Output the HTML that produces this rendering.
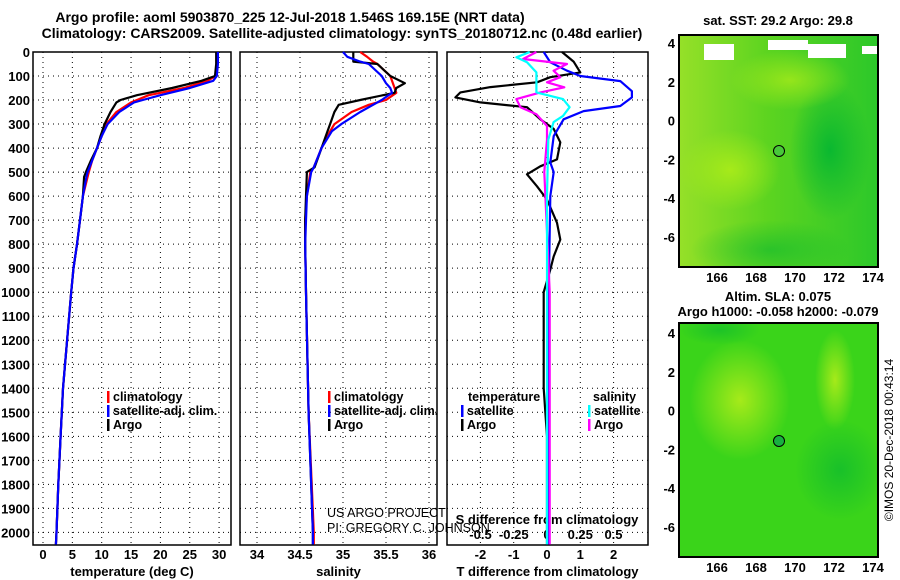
<!DOCTYPE html>
<html><head><meta charset="utf-8"><style>
html,body{margin:0;padding:0;background:#fff;}
svg{display:block;font-family:"Liberation Sans",sans-serif;}
.t{font-weight:bold;font-size:14px;}
.tk{font-weight:bold;font-size:13px;}
.lg{font-weight:bold;font-size:12.5px;}
</style></head><body>
<svg id="c" width="900" height="580" viewBox="0 0 900 580" xmlns="http://www.w3.org/2000/svg">
<defs>
<linearGradient id="g1" x1="0" y1="0" x2="1" y2="0"><stop offset="0" stop-color="#96e028"/><stop offset="0.45" stop-color="#5cd420"/><stop offset="1" stop-color="#2cc82a"/></linearGradient>
<radialGradient id="g2" cx="0.5" cy="1" r="0.5"><stop offset="0" stop-color="#c8f014"/><stop offset="1" stop-color="#c8f014" stop-opacity="0"/></radialGradient>
<radialGradient id="g3" cx="0.5" cy="0.5" r="0.5"><stop offset="0" stop-color="#a6ea1a"/><stop offset="1" stop-color="#a6ea1a" stop-opacity="0"/></radialGradient>
<radialGradient id="g4" cx="0.5" cy="0.5" r="0.5"><stop offset="0" stop-color="#0ab830"/><stop offset="1" stop-color="#0ab830" stop-opacity="0"/></radialGradient>
<clipPath id="cp1"><rect x="679" y="35" width="199" height="232"/></clipPath>
<clipPath id="cp2"><rect x="679" y="323" width="199" height="234"/></clipPath>
</defs>
<text class="t" x="290" y="22" text-anchor="middle">Argo profile: aoml 5903870_225 12-Jul-2018 1.546S 169.15E (NRT data)</text>
<text class="t" x="342" y="38" text-anchor="middle">Climatology: CARS2009. Satellite-adjusted climatology: synTS_20180712.nc (0.48d earlier)</text>
<g id="plots"></g>
<g>
<text class="tk" x="778" y="25" text-anchor="middle">sat. SST: 29.2 Argo: 29.8</text>
<g clip-path="url(#cp1)">
<rect x="679" y="35" width="199" height="232" fill="url(#g1)"/>
<ellipse cx="730" cy="170" rx="50" ry="40" fill="url(#g3)"/>
<ellipse cx="830" cy="150" rx="40" ry="70" fill="url(#g4)"/>
<ellipse cx="770" cy="250" rx="80" ry="30" fill="url(#g4)" opacity="0.6"/>
<ellipse cx="790" cy="80" rx="60" ry="30" fill="url(#g3)" opacity="0.8"/>
<rect x="704" y="44" width="30" height="16" fill="#fff"/>
<rect x="768" y="40" width="40" height="10" fill="#fff"/>
<rect x="808" y="44" width="38" height="14" fill="#fff"/>
<rect x="862" y="46" width="16" height="8" fill="#fff"/>
</g>
<rect x="679" y="35" width="199" height="232" fill="none" stroke="#000" stroke-width="2"/>
<circle cx="779" cy="151" r="5.5" fill="#48c83a" stroke="#000"/>
</g>
<g>
<text class="tk" x="778" y="301" text-anchor="middle">Altim. SLA: 0.075</text>
<text class="tk" x="778" y="316" text-anchor="middle">Argo h1000: -0.058 h2000: -0.079</text>
<g clip-path="url(#cp2)">
<rect x="679" y="323" width="199" height="234" fill="#3ad41a"/>
<ellipse cx="740" cy="400" rx="50" ry="60" fill="url(#g3)"/>
<ellipse cx="835" cy="380" rx="20" ry="50" fill="url(#g3)"/>
<ellipse cx="790" cy="557" rx="80" ry="40" fill="url(#g2)"/>
<ellipse cx="840" cy="470" rx="45" ry="50" fill="url(#g4)" opacity="0.7"/>
<ellipse cx="720" cy="330" rx="40" ry="15" fill="url(#g4)" opacity="0.6"/>
</g>
<rect x="679" y="323" width="199" height="234" fill="none" stroke="#000" stroke-width="2"/>
<circle cx="779" cy="441" r="5.5" fill="#18b040" stroke="#000"/>
</g>
<text x="893" y="440" font-size="12" text-anchor="middle" transform="rotate(-90 893 440)">©IMOS 20-Dec-2018 00:43:14</text>
<text x="327" y="517" font-size="12.5">US ARGO PROJECT</text>
<text x="327" y="532" font-size="12.5">PI: GREGORY C. JOHNSON</text>
</svg>
<script>
// ---- data ----
const depthTemp = [0,50,100,120,150,180,200,210,250,300,350,400,450,500,520,600,700,800,900,1000,1200,1400,1600,1800,2000,2050];
const tempArgo  = [29.5,29.5,29.3,27,22,16,13.2,12.5,11.5,10.5,9.8,9.2,8.2,7.3,7,6.8,6.3,5.8,5.2,4.8,4.1,3.4,3.0,2.6,2.3,2.2];
const tempClim  = [29.8,29.7,29.4,28,24,18,16,15,12.5,10.8,10,9.2,8.4,7.8,7.6,6.8,6.3,5.8,5.2,4.8,4.1,3.4,3.0,2.6,2.3,2.2];
const tempSat   = [29.8,29.8,29.6,29,25,20,17,15.5,13,11,10,9.2,8.4,7.6,7.4,6.8,6.3,5.8,5.2,4.8,4.1,3.4,3.0,2.6,2.3,2.2];
const depthSal = [0,20,40,50,100,130,150,170,200,220,250,300,330,400,480,500,600,700,800,1000,1500,2000,2050];
const salArgo  = [35.12,35.12,35.12,35.4,35.55,35.72,35.62,35.6,35.2,34.95,34.9,34.85,34.82,34.75,34.67,34.58,34.57,34.56,34.56,34.57,34.6,34.65,34.65];
const salClim  = [35.2,35.28,35.35,35.4,35.55,35.58,35.6,35.62,35.5,35.3,35.1,34.9,34.85,34.75,34.66,34.62,34.58,34.56,34.56,34.57,34.6,34.66,34.66];
const salSat   = [35.0,35.05,35.2,35.3,35.45,35.5,35.55,35.57,35.45,35.35,35.2,34.98,34.87,34.75,34.66,34.63,34.58,34.57,34.56,34.57,34.6,34.65,34.65];
const depthTd = [0,40,85,105,126,146,168,189,210,230,280,320,376,447,476,509,559,614,711,781,851,906,1000,1200,1400,1600,2050];
const tdArgo  = [0.45,0.8,1.0,0.1,-0.3,-1.7,-2.6,-2.75,-2,-0.6,-0.2,0.2,0.4,0.3,-0.2,-0.6,-0.3,0,0.3,0.4,0.2,0.1,-0.1,-0.1,-0.1,0,0];
const depthTs = [0,43,78,100,121,163,189,225,246,280,350,460,500,600,1000,2050];
const tdSat   = [-0.1,0.1,0.6,1.0,2.2,2.55,2.55,2.2,1.1,0.5,0.2,0.1,0.2,0.1,0.05,0.05];
const depthSd = [0,29,50,78,105,126,147,168,196,230,259,308,365,500,1000,2050];
const sdArgo  = [-0.08,-0.18,0.15,0.05,0.1,0,0.13,-0.05,-0.23,-0.2,-0.08,0,0,-0.02,0.02,0.02];
const depthSs = [0,22,43,85,168,196,230,266,292,365,600,1000,2050];
const sdSat   = [-0.13,-0.23,-0.15,-0.08,-0.08,0.12,0.17,0.12,0.05,0.01,0,0,0];
const depthTicks = [0,100,200,300,400,500,600,700,800,900,1000,1100,1200,1300,1400,1500,1600,1700,1800,1900,2000];
const tempTicks = [0,5,10,15,20,25,30];
const salTicks = [34,34.5,35,35.5,36];
const tdTicks = [-2,-1,0,1,2];
const sdTicks = [-0.5,-0.25,0,0.25,0.5];
const latTicks = [4,2,0,-2,-4,-6];
const lonTicks = [166,168,170,172,174];

// ---- axes ----
const yD = d => 52 + d*0.2402;
const xT = t => 43 + t*5.87;
const xS = s => 257 + (s-34)*86;
const xTd = v => 547 + v*33.3;
const xSd = v => 547 + v*133;
const NS='http://www.w3.org/2000/svg';
const g=document.getElementById('plots');
function mk(tag,attrs,parent){const e=document.createElementNS(NS,tag);for(const k in attrs)e.setAttribute(k,attrs[k]);(parent||g).appendChild(e);return e;}
function txt(x,y,s,cls,anchor){const e=mk('text',{x:x,y:y,'class':cls,'text-anchor':anchor||'middle'});e.textContent=s;return e;}

const panels=[
 {name:'temperature-panel',x0:33,x1:231,xf:xT,ticks:tempTicks,label:'temperature (deg C)'},
 {name:'salinity-panel',x0:240,x1:437,xf:xS,ticks:salTicks,label:'salinity'},
 {name:'difference-panel',x0:447,x1:648,xf:xTd,ticks:tdTicks,label:'T difference from climatology'}
];
const yTop=52,yBot=545;
panels.forEach((p)=>{
  depthTicks.forEach(d=>{
    const l=mk('line',{x1:p.x0,x2:p.x1,y1:yD(d),y2:yD(d),stroke:'#000','stroke-dasharray':'1,4'});
    
    
  });
  p.ticks.forEach(v=>{
    const x=p.xf(v);
    const l=mk('line',{x1:x,x2:x,y1:yTop,y2:yBot,stroke:'#000','stroke-dasharray':'1,4'});
    
    
    const t=txt(x,559,String(v),'tk');
    
    
  });
  const fr=mk('rect',{x:p.x0,y:yTop,width:p.x1-p.x0,height:yBot-yTop,fill:'none',stroke:'#000','stroke-width':1.5});
  
  
  const lb=txt((p.x0+p.x1)/2,576,p.label,'tk');
  
  
});
depthTicks.forEach(d=>{
  const t=txt(30,yD(d)+5,String(d),'tk','end');
  
  
});
sdTicks.forEach(v=>{
  const t=txt(xSd(v),539,String(v),'tk');
  
  
});
const sl=txt(547,524,'S difference from climatology','tk');



function line(ds,vs,xf,color,name){
  const pts=ds.map((d,i)=>xf(vs[i]).toFixed(1)+','+yD(d).toFixed(1)).join(' ');
  const e=mk('polyline',{points:pts,fill:'none',stroke:color,'stroke-width':2.2,'stroke-linejoin':'round'});
  
  
}
line(depthTemp,tempClim,xT,'#ff0000','temp-climatology-line');
line(depthTemp,tempArgo,xT,'#000','temp-argo-line');
line(depthTemp,tempSat,xT,'#0000ff','temp-satellite-line');
line(depthSal,salClim,xS,'#ff0000','sal-climatology-line');
line(depthSal,salArgo,xS,'#000','sal-argo-line');
line(depthSal,salSat,xS,'#0000ff','sal-satellite-line');
line(depthTd,tdArgo,xTd,'#000','tdiff-argo-line');
line(depthTs,tdSat,xTd,'#0000ff','tdiff-satellite-line');
line(depthSd,sdArgo,xSd,'#ff00ff','sdiff-argo-line');
line(depthSs,sdSat,xSd,'#00ffff','sdiff-satellite-line');

function legend(x,y,color,label){
  const b=mk('rect',{x:x,y:y-10,width:2.5,height:12,fill:color});
  
  
  const t=txt(x+6,y,label,'lg','start');
  
  
}
legend(107,401,'#ff0000','climatology');
legend(107,415,'#0000ff','satellite-adj. clim.');
legend(107,429,'#000','Argo');
legend(328,401,'#ff0000','climatology');
legend(328,415,'#0000ff','satellite-adj. clim.');
legend(328,429,'#000','Argo');
const tl=txt(468,401,'temperature','lg','start');


const sh=txt(593,401,'salinity','lg','start');


legend(461,415,'#0000ff','satellite');
legend(461,429,'#000','Argo');
legend(588,415,'#00ffff','satellite');
legend(588,429,'#ff00ff','Argo');

function mapAxes(yLat4,latStep,yBottom){
  latTicks.forEach(v=>{
    const y=yLat4+(4-v)*latStep;
    const t=txt(675,y+5,String(v),'tk','end');
    
    
    const a=mk('line',{x1:679,x2:684,y1:y,y2:y,stroke:'#000'});
    
    
    const b=mk('line',{x1:873,x2:878,y1:y,y2:y,stroke:'#000'});
    
    
  });
  lonTicks.forEach(v=>{
    const x=717+(v-166)*19.5;
    const t=txt(x,yBottom+15,String(v),'tk');
    
    
  });
}
mapAxes(43,19.4,267);
mapAxes(333,19.4,557);
</script>
</body></html>
